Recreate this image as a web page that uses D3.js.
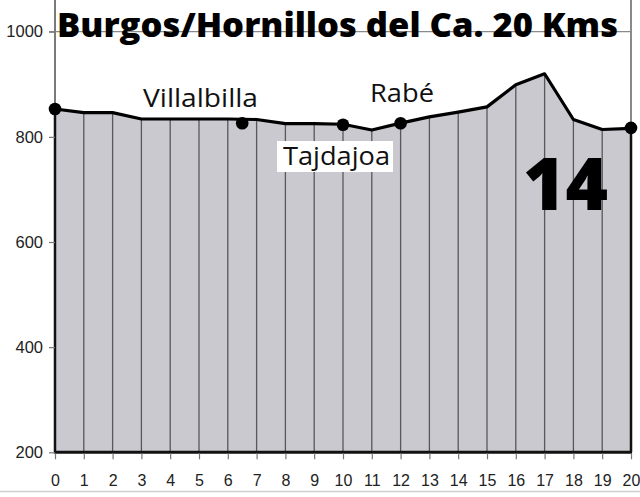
<!DOCTYPE html>
<html>
<head>
<meta charset="utf-8">
<script src="https://cdn.jsdelivr.net/npm/d3@7"></script>
<style>
  html, body { margin: 0; padding: 0; background: #fff; }
  svg { display: block; }
</style>
</head>
<body>
<script>
// ---- data ----
const kms = [0,1,2,3,4,5,6,7,8,9,10,11,12,13,14,15,16,17,18,19,20];
const elevations = [853,846,846,834,834,834,834,833,825,825,824,813,826,838,847,857,899,920,833,814,816];
const townKm = [0, 6.5, 10, 12, 20];
const townElev = [853, 826, 823, 826, 817];
const labelNames = ["Villalbilla", "Rabé", "Tajdajoa"];
const yTicks = [200, 400, 600, 800, 1000];
const xTicks = kms;
const titleText = "Burgos/Hornillos del Ca. 20 Kms";
const stageText = "14";

const W = 640, H = 497;
const svg = d3.select("body").append("svg").attr("width", W).attr("height", H);

const x = d3.scaleLinear().domain([0, 20]).range([55, 631]);
const y = d3.scaleLinear().domain([200, 1000]).range([452.3, 31.7]);

const data = kms.map((k, i) => ({ k, e: elevations[i] }));

// gridline at 1000 and frame
svg.append("line").attr("x1", 49).attr("x2", x(20)).attr("y1", y(1000)).attr("y2", y(1000))
  .attr("stroke", "#8a8a8a").attr("stroke-width", 1.3);
svg.append("line").attr("x1", x(0)).attr("x2", x(0)).attr("y1", 0).attr("y2", y(200))
  .attr("stroke", "#7a7a7a").attr("stroke-width", 2);
svg.append("line").attr("x1", x(20)).attr("x2", x(20)).attr("y1", 0).attr("y2", y(200))
  .attr("stroke", "#8a8a8a").attr("stroke-width", 2);

// area
const area = d3.area().x(d => x(d.k)).y0(y(200)).y1(d => y(d.e));
svg.append("path").datum(data).attr("d", area).attr("fill", "#c9c9cf");

// vertical km lines
svg.append("g").selectAll("line").data(data.filter(d => d.k > 0 && d.k < 20)).join("line")
  .attr("x1", d => x(d.k)).attr("x2", d => x(d.k))
  .attr("y1", d => y(d.e)).attr("y2", y(200))
  .attr("stroke", "#58585c").attr("stroke-width", 1.3);

// edges of area
svg.append("line").attr("x1", x(0)).attr("x2", x(0)).attr("y1", y(elevations[0])).attr("y2", y(200))
  .attr("stroke", "#111").attr("stroke-width", 2.5);
svg.append("line").attr("x1", x(20)).attr("x2", x(20)).attr("y1", y(elevations[20])).attr("y2", y(200))
  .attr("stroke", "#111").attr("stroke-width", 2.5);
svg.append("line").attr("x1", x(0) - 1).attr("x2", x(20) + 1).attr("y1", y(200)).attr("y2", y(200))
  .attr("stroke", "#111").attr("stroke-width", 3);

// profile line
const line = d3.line().x(d => x(d.k)).y(d => y(d.e));
svg.append("path").datum(data).attr("d", line).attr("fill", "none")
  .attr("stroke", "#000").attr("stroke-width", 3.2).attr("stroke-linejoin", "round");

// town markers
svg.append("g").selectAll("circle").data(townKm.map((k, i) => ({ k, e: townElev[i] }))).join("circle")
  .attr("cx", d => x(d.k)).attr("cy", d => y(d.e)).attr("r", 6.3).attr("fill", "#000");

// y axis
const yAxis = d3.axisLeft(y).tickValues(yTicks).tickSize(6).tickPadding(6).tickFormat(d3.format("d"));
const gy = svg.append("g").attr("transform", `translate(${x(0)},0)`).call(yAxis);
gy.select(".domain").remove();
gy.selectAll(".tick line").attr("stroke", "#777").attr("stroke-width", 1.2);
gy.selectAll(".tick text").attr("font-family", "Liberation Sans, Arial, sans-serif")
  .attr("font-size", 16.5).attr("fill", "#222");

// x axis
const xAxis = d3.axisBottom(x).tickValues(xTicks).tickSize(6).tickPadding(15).tickFormat(d3.format("d"));
const gx = svg.append("g").attr("transform", `translate(0,${y(200) + 1})`).call(xAxis);
gx.select(".domain").remove();
gx.selectAll(".tick line").attr("stroke", "#777").attr("stroke-width", 1.2);
gx.selectAll(".tick text").attr("font-family", "Liberation Sans, Arial, sans-serif")
  .attr("font-size", 16).attr("fill", "#222");

// bottom rule
svg.append("line").attr("x1", 0).attr("x2", W).attr("y1", 491.5).attr("y2", 491.5)
  .attr("stroke", "#cfcfcf").attr("stroke-width", 1.5);

// title
svg.append("text").attr("x", 57).attr("y", 37)
  .attr("font-family", "Open Sans, sans-serif").attr("font-weight", 800)
  .attr("font-size", 34).attr("textLength", 561).attr("lengthAdjust", "spacingAndGlyphs")
  .attr("fill", "#000").text(titleText);

// stage number
svg.append("text").attr("x", 523).attr("y", 210)
  .attr("font-family", "Open Sans, sans-serif").attr("font-weight", 800)
  .attr("font-size", 72).attr("textLength", 85).attr("lengthAdjust", "spacingAndGlyphs")
  .attr("fill", "#000").text(stageText);

// town labels
const lblFont = "Open Sans, sans-serif";
svg.append("text").attr("x", 143).attr("y", 107).attr("font-family", lblFont)
  .attr("font-size", 25).attr("textLength", 115).attr("lengthAdjust", "spacingAndGlyphs")
  .attr("fill", "#111").text(labelNames[0]);
svg.append("text").attr("x", 370).attr("y", 102).attr("font-family", lblFont)
  .attr("font-size", 25).attr("textLength", 64).attr("lengthAdjust", "spacingAndGlyphs")
  .attr("fill", "#111").text(labelNames[1]);
svg.append("rect").attr("x", 277).attr("y", 141).attr("width", 116).attr("height", 31).attr("fill", "#fff");
svg.append("text").attr("x", 283).attr("y", 165).attr("font-family", lblFont)
  .attr("font-size", 25).attr("textLength", 107).attr("lengthAdjust", "spacingAndGlyphs")
  .attr("fill", "#111").text(labelNames[2]);
</script>
</body>
</html>
